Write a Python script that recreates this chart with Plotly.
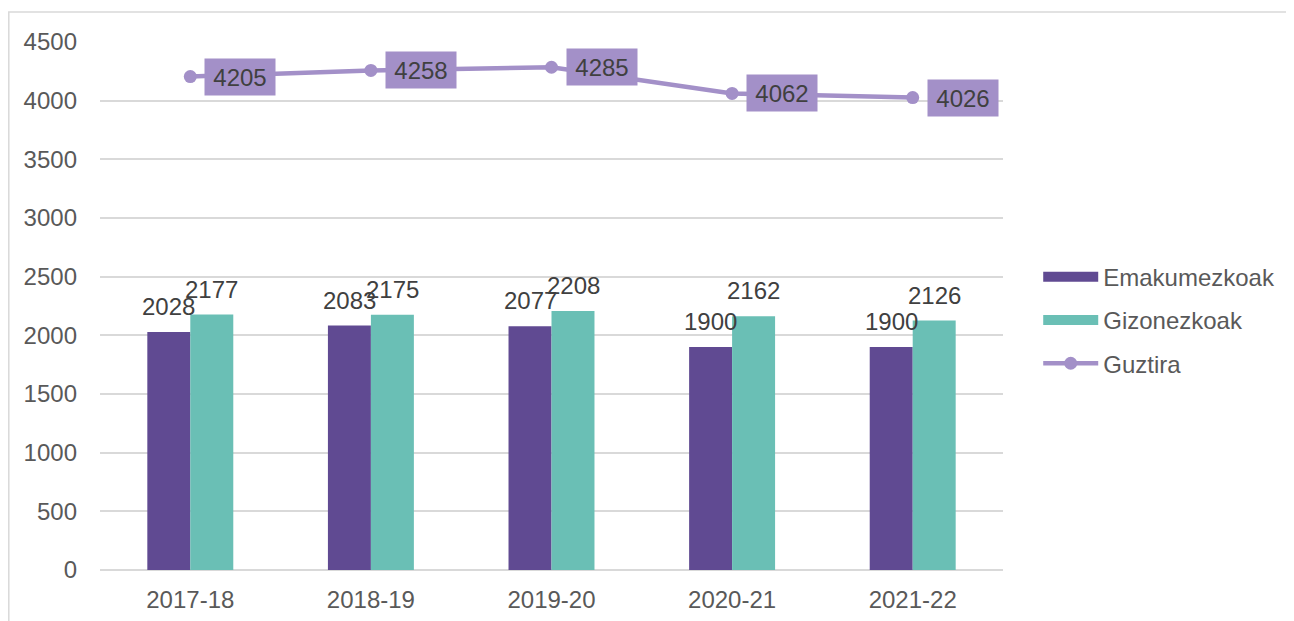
import plotly.graph_objects as go

categories = ["2017-18", "2018-19", "2019-20", "2020-21", "2021-22"]
emakumezkoak = [2028, 2083, 2077, 1900, 1900]
gizonezkoak = [2177, 2175, 2208, 2162, 2126]
guztira = [4205, 4258, 4285, 4062, 4026]
y_ticks = [0, 500, 1000, 1500, 2000, 2500, 3000, 3500, 4000, 4500]

C_PURPLE = "#604A92"
C_TEAL = "#6ABFB5"
C_LINE = "#A390C8"
FONT = "Liberation Sans, Arial, sans-serif"
FS = 24

fig = go.Figure()
fig.add_trace(go.Bar(x=categories, y=emakumezkoak, name="Emakumezkoak",
                     marker=dict(color=C_PURPLE, line=dict(width=0)), showlegend=False))
fig.add_trace(go.Bar(x=categories, y=gizonezkoak, name="Gizonezkoak",
                     marker=dict(color=C_TEAL, line=dict(width=0)), showlegend=False))
fig.add_trace(go.Scatter(x=categories, y=guztira, name="Guztira", mode="lines+markers",
                         line=dict(color=C_LINE, width=4.5),
                         marker=dict(color=C_LINE, size=13), showlegend=False))
# legend entries (swatches only)
fig.add_trace(go.Scatter(x=[None], y=[None], name="Emakumezkoak", mode="lines",
                         line=dict(color=C_PURPLE, width=12), legendgroup="a"))
fig.add_trace(go.Scatter(x=[None], y=[None], name="Gizonezkoak", mode="lines",
                         line=dict(color=C_TEAL, width=12), legendgroup="b"))
fig.add_trace(go.Scatter(x=[None], y=[None], name="Guztira", mode="lines+markers",
                         line=dict(color=C_LINE, width=4.5),
                         marker=dict(color=C_LINE, size=13), legendgroup="c"))

ann = []
for c, v in zip(categories, emakumezkoak):
    ann.append(dict(x=c, y=v, xref="x", yref="y", text=str(v), showarrow=False,
                    xanchor="center", yanchor="bottom", xshift=-21.5, yshift=10,
                    font=dict(family=FONT, size=FS, color="#404040")))
for c, v in zip(categories, gizonezkoak):
    ann.append(dict(x=c, y=v, xref="x", yref="y", text=str(v), showarrow=False,
                    xanchor="center", yanchor="bottom", xshift=21.5, yshift=10,
                    font=dict(family=FONT, size=FS, color="#404040")))
for c, v in zip(categories, guztira):
    ann.append(dict(x=c, y=v, xref="x", yref="y", text=str(v), showarrow=False,
                    xanchor="left", yanchor="middle", xshift=14, yshift=0,
                    bgcolor=C_LINE, borderpad=4, width=62, height=28,
                    font=dict(family=FONT, size=FS, color="#404040")))

fig.update_layout(
    width=1294, height=621,
    margin=dict(l=92, r=299, t=34, b=59),
    paper_bgcolor="white", plot_bgcolor="white",
    font=dict(family=FONT, size=FS, color="#595959"),
    barmode="group", bargap=0.524, bargroupgap=0,
    annotations=ann,
    showlegend=True,
    legend=dict(x=1.039, y=0.473, xanchor="left", yanchor="middle",
                font=dict(family=FONT, size=FS, color="#595959"),
                tracegroupgap=9, itemwidth=55, bgcolor="rgba(0,0,0,0)"),
    xaxis=dict(type="category", showgrid=False, showline=False, zeroline=False,
               ticks="", tickfont=dict(family=FONT, size=FS, color="#595959"),
               ticklabelstandoff=13),
    yaxis=dict(range=[0, 4500], tickvals=y_ticks, showgrid=True, gridcolor="#D9D9D9",
               gridwidth=1.5, zeroline=True, zerolinecolor="#D9D9D9", zerolinewidth=1.5,
               showline=False, ticks="", ticklabelstandoff=22,
               tickfont=dict(family=FONT, size=FS, color="#595959")),
    shapes=[dict(type="rect", xref="paper", yref="paper",
                 x0=-0.1010, x1=1.33, y0=-0.12, y1=1.0568,
                 line=dict(color="#D9D9D9", width=1.5), fillcolor="rgba(0,0,0,0)",
                 layer="below")],
)

fig.write_html("out.html")
